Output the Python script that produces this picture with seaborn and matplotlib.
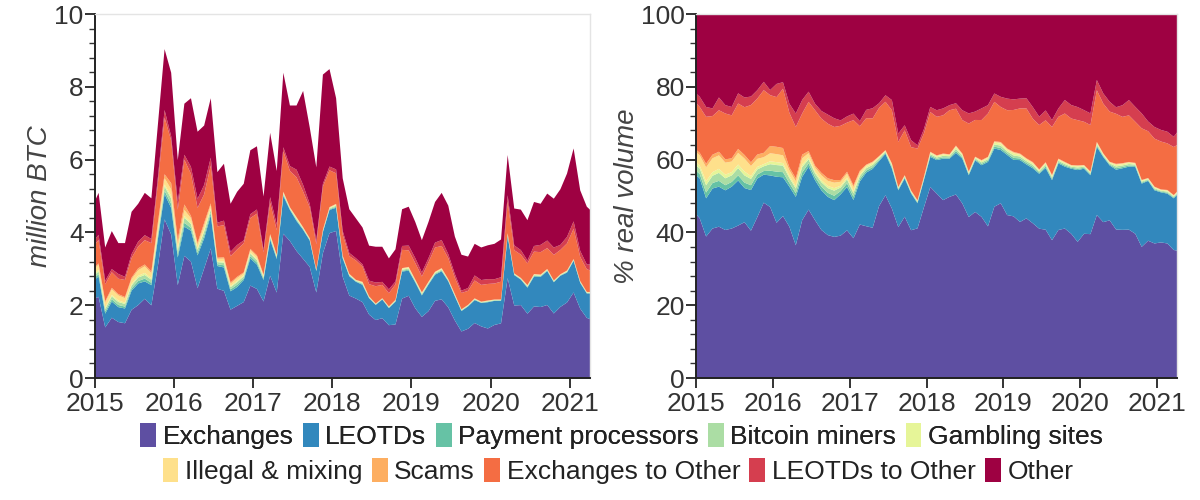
import numpy as np
import matplotlib
matplotlib.use("Agg")
import matplotlib.pyplot as plt
from matplotlib.patches import Patch
from matplotlib.ticker import AutoMinorLocator
import seaborn as sns

# ---- data: monthly (mid-month), Dec 2014 .. Apr 2021 ----
month_index = np.arange(-1, 76)          # months after Jan 2015
years = [2015, 2016, 2017, 2018, 2019, 2020, 2021]

categories = ["Exchanges", "LEOTDs", "Payment processors", "Bitcoin miners",
              "Gambling sites", "Illegal & mixing", "Scams",
              "Exchanges to Other", "LEOTDs to Other", "Other"]
category_colors = ["#5e4fa2", "#3288bd", "#66c2a5", "#abdda4", "#e6f598",
                   "#fee08b", "#fdae61", "#f46d43", "#d53e4f", "#9e0142"]

# total real volume, million BTC
total_btc = [4.7, 5.1, 3.6, 4.05, 3.72, 3.72, 4.58, 4.8, 5.1, 4.95, 7.0,
             9.05, 8.4, 6.0, 7.55, 7.7, 6.78, 6.95, 7.7, 5.67, 5.9,
             4.8, 5.13, 5.35, 6.27, 6.38, 5.0, 6.75, 5.7, 8.4, 7.5,
             7.5, 7.9, 6.9, 5.8, 8.35, 8.5, 7.7, 5.5, 4.65, 4.4,
             4.15, 3.65, 3.62, 3.62, 3.3, 3.55, 4.65, 4.72, 4.3, 3.8,
             4.3, 4.85, 5.1, 4.75, 3.9, 3.4, 3.35, 3.7, 3.6, 3.66,
             3.7, 3.82, 6.14, 4.67, 4.64, 4.35, 4.85, 4.8, 5.08, 4.94,
             5.2, 5.63, 6.32, 5.17, 4.72, 4.55]

# shares in % of real volume
exchanges = [46, 44, 39, 41.2, 41.7, 40.8, 41.2, 42.1, 43.5, 40, 44.4,
             48.3, 47.2, 42.6, 44.4, 41.7, 36.6, 43.5, 46.4, 43.5, 40.8,
             39.4, 38.9, 39.8, 40.7, 38.5, 42.6, 42, 41.5, 47.6, 50.4,
             46.7, 41.6, 44.4, 40.7, 41.2, 47, 52.6, 50.8, 49, 49.9,
             50.4, 48.1, 44.4, 45.8, 44.4, 41.8, 47.2, 48.1, 44.9, 44.5,
             43, 44, 42.6, 41.2, 40.8, 38, 40.8, 41.2, 39.8, 37.5,
             39.8, 39.7, 44.9, 43, 43.5, 40.8, 40.8, 40.9, 39.8, 36.2,
             38, 37.1, 37.5, 37.1, 35.3, 35]
leotds = [10.5, 11, 10.5, 11, 11, 10.9, 11.5, 12.4, 9.5, 11, 10.6,
          7.7, 8.7, 12.6, 10.6, 11, 13.3, 11.9, 11.8, 11, 10.9,
          10.5, 10.1, 11.5, 11.9, 10.5, 11.9, 14.8, 16.2, 12.4, 11.4,
          11, 10.1, 10.5, 10.1, 6.9, 7.5, 8.3, 9.2, 11.4, 10.5,
          11.4, 12.3, 11.5, 14.2, 14.2, 17.7, 16, 14.6, 16.5, 15.5,
          17, 14.8, 15.1, 15.1, 16.9, 16.5, 18.3, 17, 17.9, 19.7,
          17.9, 16.2, 18.7, 17.9, 15.1, 16.4, 16.9, 17.3, 18.4, 17.4,
          16.5, 14.6, 13.8, 13.7, 14.2, 16.3]
payment = [1.2, 1.2, 1.6, 1.5, 1.6, 1.4, 1.3, 1.4, 1.5, 1.3, 1.1,
           1.0, 1.3, 1.4, 1.4, 1.0, 1.0, 1.2, 0.9, 0.9, 1.0,
           1.1, 1.2, 0.9, 1.0, 0.9, 0.7, 0.55, 0.5, 0.35, 0.25,
           0.35, 0.22, 0.22, 0.2, 0.2, 0.22, 0.35, 0.33, 0.35, 0.3,
           0.5, 0.35, 0.25, 0.25, 0.35, 0.35, 0.5, 0.55, 0.45, 0.55,
           0.45, 0.43, 0.43, 0.3, 0.4, 0.35, 0.33, 0.33, 0.25, 0.33,
           0.25, 0.25, 0.35, 0.25, 0.25, 0.4, 0.35, 0.33, 0.28, 0.25,
           0.2, 0.25, 0.2, 0.25, 0.22, 0.22]
miners = [1.5, 1.5, 2.0, 2.0, 2.2, 1.9, 1.8, 2.0, 2.0, 1.7, 1.4,
          1.3, 1.8, 1.8, 1.8, 1.4, 1.3, 1.5, 1.1, 1.0, 1.2,
          1.3, 1.4, 1.0, 1.1, 1.0, 0.8, 0.65, 0.6, 0.42, 0.3,
          0.42, 0.27, 0.27, 0.24, 0.24, 0.27, 0.42, 0.39, 0.42, 0.36,
          0.6, 0.42, 0.3, 0.3, 0.42, 0.42, 0.6, 0.66, 0.54, 0.66,
          0.54, 0.51, 0.51, 0.36, 0.48, 0.42, 0.39, 0.39, 0.3, 0.39,
          0.3, 0.3, 0.42, 0.3, 0.3, 0.48, 0.42, 0.39, 0.33, 0.3,
          0.24, 0.3, 0.24, 0.3, 0.27, 0.27]
gambling = [0.8, 0.8, 1.1, 1.0, 1.1, 1.0, 0.9, 1.0, 1.1, 0.8, 0.7,
            0.6, 0.8, 0.8, 0.7, 0.6, 0.6, 0.7, 0.5, 0.5, 0.6,
            0.6, 0.7, 0.5, 0.5, 0.5, 0.4, 0.5, 0.45, 0.33, 0.25,
            0.35, 0.23, 0.23, 0.2, 0.2, 0.23, 0.35, 0.32, 0.35, 0.3,
            0.5, 0.35, 0.25, 0.25, 0.35, 0.35, 0.5, 0.55, 0.45, 0.55,
            0.45, 0.42, 0.42, 0.3, 0.4, 0.35, 0.32, 0.32, 0.25, 0.32,
            0.25, 0.25, 0.35, 0.25, 0.25, 0.4, 0.35, 0.32, 0.27, 0.25,
            0.2, 0.25, 0.2, 0.25, 0.23, 0.23]
illegal = [2.8, 2.8, 3.8, 3.8, 3.7, 3.3, 2.9, 3.2, 3.6, 2.7, 2.2,
           1.9, 2.2, 2.2, 2.1, 1.5, 1.4, 1.7, 1.2, 1.1, 1.3,
           1.4, 1.5, 1.1, 1.1, 1.1, 0.8, 0.35, 0.3, 0.2, 0.13,
           0.17, 0.11, 0.11, 0.1, 0.1, 0.11, 0.17, 0.16, 0.17, 0.14,
           0.24, 0.17, 0.12, 0.12, 0.17, 0.17, 0.24, 0.26, 0.22, 0.26,
           0.22, 0.2, 0.2, 0.14, 0.19, 0.17, 0.16, 0.16, 0.12, 0.16,
           0.12, 0.12, 0.17, 0.12, 0.12, 0.19, 0.17, 0.16, 0.13, 0.12,
           0.1, 0.12, 0.1, 0.12, 0.11, 0.11]
scams = [0.7, 0.7, 1.0, 1.0, 1.0, 0.9, 0.9, 1.1, 1.0, 1.0, 1.2,
         1.2, 2.0, 2.0, 2.0, 0.8, 0.8, 1.0, 0.6, 0.5, 0.7,
         0.7, 0.7, 0.5, 0.5, 0.5, 0.3, 0.15, 0.15, 0.1, 0.07,
         0.11, 0.07, 0.07, 0.06, 0.06, 0.07, 0.11, 0.1, 0.11, 0.1,
         0.16, 0.11, 0.08, 0.08, 0.11, 0.11, 0.16, 0.18, 0.14, 0.18,
         0.14, 0.14, 0.14, 0.1, 0.13, 0.11, 0.1, 0.1, 0.08, 0.1,
         0.08, 0.08, 0.11, 0.08, 0.08, 0.13, 0.11, 0.1, 0.09, 0.08,
         0.06, 0.08, 0.06, 0.08, 0.07, 0.07]
ex_to_other = [13, 12.6, 12.9, 10.6, 11.4, 12.6, 11.8, 12.5, 13.3, 15.5, 15.4,
               17.2, 14, 13.6, 16.2, 15, 14.1, 11.3, 13.5, 15.2, 14.9,
               15, 14.6, 15.1, 13.5, 17.9, 12.3, 12.8, 11.9, 13.3, 13.3,
               14.6, 12.4, 12.3, 11.9, 14.2, 11.9, 10.9, 10.6, 10.5, 12.1,
               10.1, 9.2, 13.2, 10.1, 11, 11.9, 10.8, 9.6, 10.5, 11.5,
               12.4, 13.7, 11.9, 12.2, 11.5, 13.2, 11.5, 13.3, 12.8, 12.4,
               11.9, 12.8, 14.2, 13.7, 13.8, 13.7, 12.7, 12.8, 11.3, 14.2,
               12.9, 13.2, 13.2, 12.8, 13.2, 12.4]
leotd_to_other = [2.5, 2.8, 2.7, 2.1, 3.5, 2.3, 2.3, 2.8, 2.7, 2.3, 2.3,
                  2.3, 1.4, 3.6, 1.8, 2.5, 3.7, 3.7, 2.8, 1.8, 2.1,
                  2.5, 2.4, 1.5, 1.7, 1.8, 1.4, 2.3, 2.8, 1.3, 1.8,
                  2.8, 2.3, 1.4, 1.9, 0.9, 1.2, 1.4, 1.8, 1.9, 1.4,
                  1.5, 2.7, 2.8, 2.3, 3.2, 2.3, 2.3, 2.8, 3.2, 2.9,
                  2.7, 2.8, 3.2, 2.3, 2.7, 1.9, 2.3, 3.7, 3.7, 3.6,
                  3.2, 3.2, 2.8, 2.8, 2.7, 1.8, 3.2, 4.2, 4.1, 4.1,
                  2.7, 3.2, 3.2, 3.2, 2.8, 4.1]
other = [21, 22.6, 25.4, 25.8, 22.8, 24.9, 25.4, 21.7, 23.1, 22.2, 20.8,
         18.5, 20.8, 19, 18.5, 24.5, 27.2, 23.5, 21.2, 24.5, 26.5,
         27.5, 28.5, 29.5, 28, 27.2, 29.5, 26.3, 25.8, 24.5, 22.2,
         23.5, 32.7, 30.4, 34.5, 35.9, 31.5, 25.4, 26.3, 25.8, 24.9,
         24.3, 26.3, 27.2, 26.7, 25.8, 24.9, 21.7, 22.6, 23.1, 23.3,
         23.1, 23, 25.4, 28.1, 26.3, 29, 25.8, 23.5, 24.9, 25.4,
         26.3, 27.2, 18, 21.7, 24, 25.4, 24.9, 23.5, 25.4, 27.2,
         29.5, 30.9, 31.8, 32.2, 33.6, 31.3]

# ---- derived ----
x = 2015 + (month_index + 0.5) / 12.0
shares = np.array([exchanges, leotds, payment, miners, gambling, illegal,
                   scams, ex_to_other, leotd_to_other, other], dtype=float)
frac = shares / shares.sum(axis=0)
pct = frac * 100
vol = frac * np.array(total_btc)

# ---- style ----
sns.set_theme(style="ticks")
plt.rcParams["font.family"] = ["Liberation Sans", "DejaVu Sans"]
colors = sns.color_palette(category_colors)

fig = plt.figure(figsize=(12, 5), dpi=100)
ax1 = fig.add_axes([0.079, 0.244, 0.413, 0.728])
ax2 = fig.add_axes([0.580, 0.244, 0.401, 0.728])

for ax, data, ylim, ylab, step in [(ax1, vol, 10, "million BTC", 2),
                                   (ax2, pct, 100, "% real volume", 20)]:
    ax.stackplot(x, data, colors=colors, linewidth=0)
    ax.set_xlim(2015, 2021.26)
    ax.set_ylim(0, ylim)
    ax.set_xticks(years)
    ax.set_xticklabels([str(y) for y in years])
    ax.set_yticks(np.arange(0, ylim + 0.01, step))
    ax.yaxis.set_minor_locator(AutoMinorLocator(5))
    ax.set_ylabel(ylab, fontsize=20, style="italic", color="#444444", labelpad=1)
    ax.tick_params(axis="both", which="major", labelsize=19, colors="#333333",
                   length=7, width=1.4, labelcolor="#333333")
    ax.tick_params(axis="y", which="major", pad=1)
    ax.tick_params(axis="x", which="major", pad=3)
    ax.tick_params(axis="y", which="minor", length=4, width=1.0, color="#333333")
    ax.tick_params(axis="x", which="minor", length=0)
    for s in ["left", "bottom"]:
        ax.spines[s].set_color("#222222")
        ax.spines[s].set_linewidth(1.4)
    for s in ["top", "right"]:
        ax.spines[s].set_color("#e4e4e4")
        ax.spines[s].set_linewidth(1.0)
    ax.set_facecolor("white")

handles = [Patch(facecolor=c, edgecolor="none") for c in colors]
leg_kw = dict(frameon=False, fontsize=19, handlelength=0.6, handleheight=1.0,
              handletextpad=0.25, columnspacing=0.35, borderaxespad=0,
              labelcolor="#222222")
leg1 = fig.legend(handles[:5], categories[:5], ncol=5, loc="center",
                  bbox_to_anchor=(0.518, 0.128), **leg_kw)
fig.add_artist(leg1)
fig.legend(handles[5:], categories[5:], ncol=5, loc="center",
           bbox_to_anchor=(0.515, 0.058), **leg_kw)

fig.savefig("out.png", dpi=100, facecolor="white")
